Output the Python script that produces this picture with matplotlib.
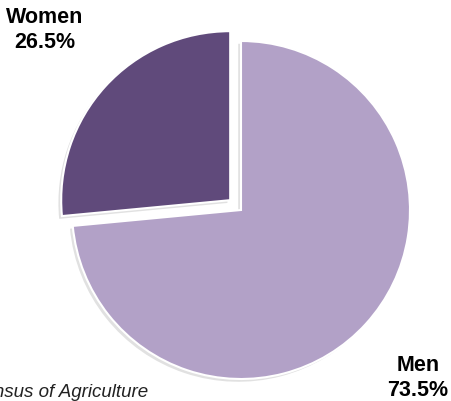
import matplotlib.pyplot as plt
import matplotlib.patheffects as pe

labels = ['Men', 'Women']
shares = [73.5, 26.5]
colors = ['#b2a1c7', '#604a7b']
explode = [0, 14.6]  # in data units, the pie radius is 169

fig = plt.figure(figsize=(4.51, 4.02), dpi=100)
ax = fig.add_axes([0, 0, 1, 1])

wedges, _ = ax.pie(shares, colors=colors, explode=explode, startangle=90,
                   counterclock=False, radius=169, center=(241, 191),
                   wedgeprops=dict(edgecolor='white', linewidth=1.5))
for w in wedges:
    w.set_path_effects([
        pe.SimplePatchShadow(offset=(-2, -2), shadow_rgbFace='#888888', alpha=0.25),
        pe.Normal()])

ax.set_xlim(0, 451)
ax.set_ylim(0, 402)
ax.set_aspect('auto')
ax.axis('off')

# slice labels in the corners
pos = {'Men': (418, 24), 'Women': (45, 372)}
for lab, val in zip(labels, shares):
    x, y = pos[lab]
    ax.text(x, y, f'{lab}\n{val}%', ha='center', va='center', fontsize=15.5,
            fontweight='bold', family='Liberation Sans', linespacing=1.2)

ax.text(148, 5, 'Census of Agriculture', ha='right', va='baseline',
        fontsize=13.5, style='italic', family='Liberation Sans', color='#222222')

fig.savefig('out.png', dpi=100)
